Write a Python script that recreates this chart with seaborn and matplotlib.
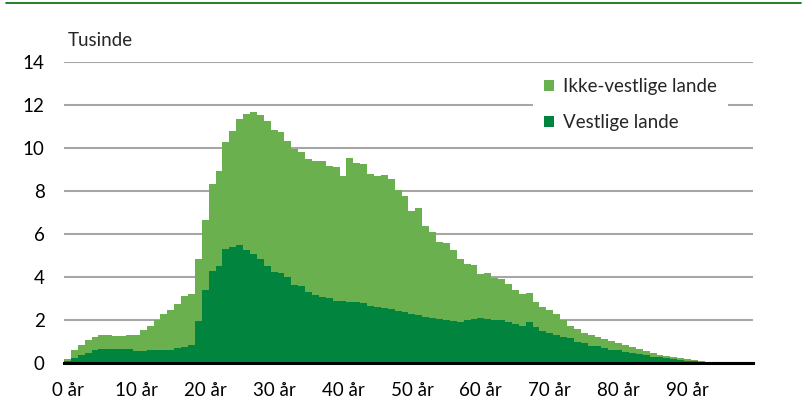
import numpy as np
import pandas as pd
import matplotlib
matplotlib.use('Agg')
import matplotlib.pyplot as plt
from matplotlib.patches import Patch
from matplotlib.lines import Line2D
import seaborn as sns

sns.set_theme(style='white')
plt.rcParams['font.family'] = ['Lato', 'DejaVu Sans']

# alder 0-99, tusinde personer
ages = list(range(100))

vestlige = [
    0.08, 0.23, 0.33, 0.43, 0.57, 0.62, 0.62, 0.62, 0.62, 0.62,
    0.54, 0.53, 0.56, 0.56, 0.56, 0.56, 0.67, 0.74, 0.81, 1.95,
    3.38, 4.28, 4.50, 5.27, 5.36, 5.47, 5.26, 5.05, 4.81, 4.51,
    4.23, 4.19, 3.97, 3.61, 3.57, 3.30, 3.16, 3.07, 2.99, 2.88,
    2.85, 2.84, 2.82, 2.76, 2.64, 2.60, 2.56, 2.48, 2.42, 2.33,
    2.25, 2.19, 2.13, 2.09, 2.04, 1.99, 1.95, 1.88, 1.99, 2.02,
    2.07, 2.02, 1.99, 1.99, 1.91, 1.79, 1.71, 1.88, 1.67, 1.47,
    1.39, 1.26, 1.17, 1.12, 0.97, 0.89, 0.78, 0.77, 0.66, 0.60,
    0.58, 0.50, 0.43, 0.38, 0.33, 0.27, 0.24, 0.19, 0.16, 0.12,
    0.09, 0.06, 0.04, 0.02, 0.01, 0.005, 0.0, 0.0, 0.0, 0.0,
]

ikke_vestlige = [
    0.09, 0.36, 0.49, 0.62, 0.61, 0.68, 0.64, 0.60, 0.60, 0.65,
    0.73, 0.99, 1.15, 1.42, 1.69, 1.89, 2.06, 2.38, 2.37, 2.86,
    3.26, 4.03, 4.43, 4.98, 5.43, 5.89, 6.30, 6.62, 6.72, 6.75,
    6.62, 6.57, 6.34, 6.33, 6.23, 6.16, 6.25, 6.34, 6.17, 6.21,
    5.85, 6.69, 6.48, 6.50, 6.12, 6.11, 6.17, 6.08, 5.61, 5.42,
    4.82, 4.99, 4.23, 3.98, 3.58, 3.58, 3.27, 2.92, 2.62, 2.51,
    2.03, 2.16, 1.97, 1.89, 1.77, 1.61, 1.48, 1.34, 1.14, 1.13,
    1.05, 0.98, 0.81, 0.59, 0.57, 0.50, 0.48, 0.40, 0.42, 0.38,
    0.32, 0.32, 0.31, 0.24, 0.19, 0.17, 0.13, 0.11, 0.08, 0.07,
    0.06, 0.04, 0.03, 0.02, 0.01, 0.005, 0.01, 0.0, 0.0, 0.0,
]

yticks = [0, 2, 4, 6, 8, 10, 12, 14]
xtick_pos = list(range(0, 100, 10))
xtick_labels = ['%d år' % a for a in xtick_pos]

light = '#6ab04f'
dark = '#00843e'

df = pd.DataFrame({'alder': ages, 'vestlige': vestlige, 'ikke': ikke_vestlige})
df['total'] = df['vestlige'] + df['ikke']

fig = plt.figure(figsize=(8.03, 4.15), dpi=100)
ax = fig.add_axes([64/803, 1-362.5/415, (753-64)/803, (362.5-62)/415])

sns.barplot(data=df, x='alder', y='total', color=light, width=1.0, linewidth=0,
            saturation=1, errorbar=None, ax=ax)
sns.barplot(data=df, x='alder', y='vestlige', color=dark, width=1.0, linewidth=0,
            saturation=1, errorbar=None, ax=ax)

ax.set_ylim(0, 14)
ax.set_xlim(-0.5, 99.5)
ax.set_yticks(yticks)
ax.set_yticklabels([str(v) for v in yticks])
ax.set_xticks(xtick_pos)
ax.set_xticklabels(xtick_labels)
ax.set_xlabel('')
ax.set_ylabel('')
ax.yaxis.grid(True, color='#a6a6a6', linewidth=1.5)
ax.set_axisbelow(True)
for s in ['top', 'right', 'left']:
    ax.spines[s].set_visible(False)
ax.spines['bottom'].set_color('black')
ax.spines['bottom'].set_linewidth(2.2)
ax.spines['bottom'].set_zorder(5)
ax.tick_params(axis='both', length=0, labelsize=13.5, colors='black')
ax.tick_params(axis='y', pad=14)
ax.tick_params(axis='x', pad=14)

fig.text(68/803, 1-40/415, 'Tusinde', fontsize=13.5, va='center', ha='left')

handles = [Patch(facecolor=light, edgecolor='none'), Patch(facecolor=dark, edgecolor='none')]
leg = fig.legend(handles, ['Ikke-vestlige lande', 'Vestlige lande'],
                 loc='upper left', bbox_to_anchor=(533/803, 1-67/415),
                 bbox_transform=fig.transFigure, fontsize=13.5, frameon=True,
                 fancybox=False, framealpha=1, facecolor='white', edgecolor='none',
                 handlelength=0.5, handleheight=0.5, handletextpad=0.5,
                 labelspacing=1.0, borderpad=0.6, borderaxespad=0)

# grøn linje øverst
fig.add_artist(Line2D([6/803, 801/803], [1-3/415, 1-3/415], color='#0e7a12',
                      linewidth=1.3, transform=fig.transFigure))

fig.savefig('out.png', dpi=100)
